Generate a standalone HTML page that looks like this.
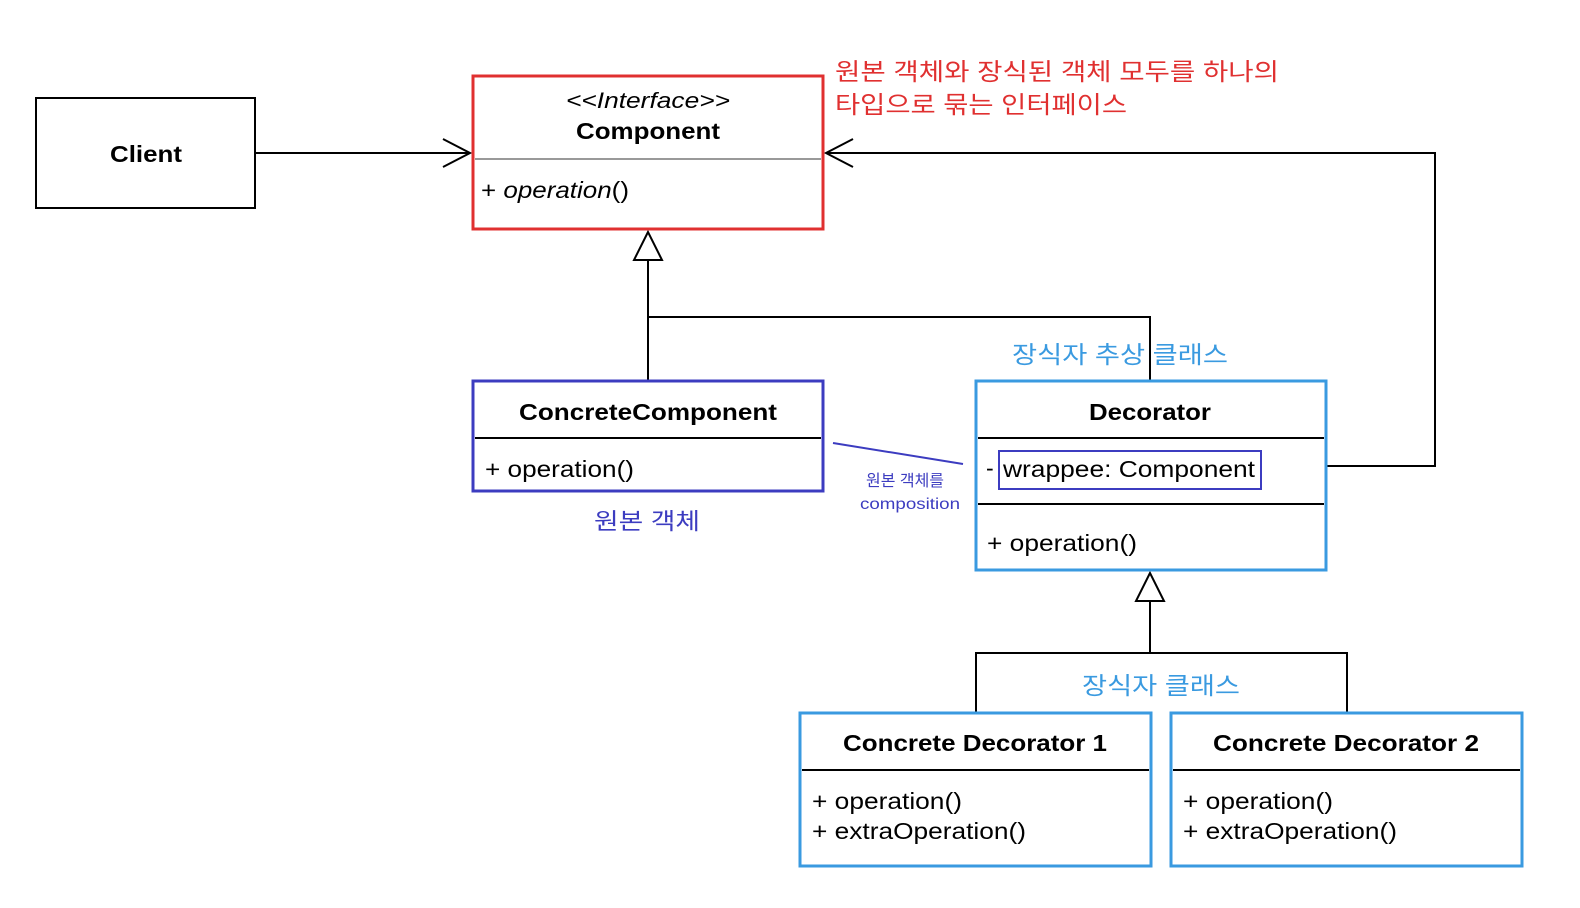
<!DOCTYPE html>
<html><head><meta charset="utf-8"><style>
html,body{margin:0;padding:0;background:#fff}
svg{display:block}
text{font-family:"Liberation Sans","Noto Sans CJK KR",sans-serif}
</style></head><body>
<svg width="1580" height="908" viewBox="0 0 1580 908" xmlns="http://www.w3.org/2000/svg">
<rect width="1580" height="908" fill="#fff"/>
<g fill="none" stroke="#000" stroke-width="2">
<!-- Client -->
<rect x="36" y="98" width="219" height="110"/>
<!-- connectors -->
<line x1="255" y1="153" x2="470" y2="153"/>
<polyline points="443,139 470,153 443,167"/>
<polyline points="1326,466 1435,466 1435,153 826,153"/>
<polyline points="853,139 826,153 853,167"/>
<line x1="648" y1="260" x2="648" y2="381"/>
<polyline points="648,317 1150,317 1150,381"/>
<polygon points="648,232 634,260 662,260" fill="#fff"/>
<line x1="1150" y1="601" x2="1150" y2="653"/>
<polyline points="976,713 976,653 1347,653 1347,713"/>
<polygon points="1150,573 1136,601 1164,601" fill="#fff"/>
</g>
<!-- Component -->
<rect x="473" y="76" width="350" height="153" fill="#fff" stroke="#e03030" stroke-width="3"/>
<line x1="475" y1="159" x2="821" y2="159" stroke="#999" stroke-width="2"/>
<text x="648" y="108" text-anchor="middle" font-size="22" font-style="italic" textLength="164" lengthAdjust="spacingAndGlyphs">&lt;&lt;Interface&gt;&gt;</text>
<text x="648" y="139" text-anchor="middle" font-size="23" font-weight="bold" textLength="144" lengthAdjust="spacingAndGlyphs">Component</text>
<text x="481" y="198" font-size="23" textLength="148" lengthAdjust="spacingAndGlyphs">+ <tspan font-style="italic">operation</tspan>()</text>
<!-- Client text -->
<text x="146" y="162" text-anchor="middle" font-size="23" font-weight="bold" textLength="72" lengthAdjust="spacingAndGlyphs">Client</text>
<!-- red annotation -->
<text x="835" y="80" font-size="24" fill="#e03030" textLength="444" lengthAdjust="spacingAndGlyphs">원본 객체와 장식된 객체 모두를 하나의</text>
<text x="835" y="113" font-size="24" fill="#e03030" textLength="292" lengthAdjust="spacingAndGlyphs">타입으로 묶는 인터페이스</text>
<!-- ConcreteComponent -->
<rect x="473" y="381" width="350" height="110" fill="#fff" stroke="#3c3cc0" stroke-width="3"/>
<line x1="475" y1="438" x2="821" y2="438" stroke="#000" stroke-width="2"/>
<text x="648" y="420" text-anchor="middle" font-size="23" font-weight="bold" textLength="258" lengthAdjust="spacingAndGlyphs">ConcreteComponent</text>
<text x="485" y="477" font-size="23" textLength="149" lengthAdjust="spacingAndGlyphs">+ operation()</text>
<text x="647" y="529" text-anchor="middle" font-size="23" fill="#3c3cc0" textLength="106" lengthAdjust="spacingAndGlyphs">원본 객체</text>
<!-- composition -->
<line x1="833" y1="443" x2="963" y2="464" stroke="#3c3cc0" stroke-width="2"/>
<text x="905" y="486" text-anchor="middle" font-size="16" fill="#3c3cc0">원본 객체를</text>
<text x="910" y="509" text-anchor="middle" font-size="16" fill="#3c3cc0" textLength="100" lengthAdjust="spacingAndGlyphs">composition</text>
<!-- Decorator -->
<text x="1120" y="363" text-anchor="middle" font-size="24" fill="#3a9ae0" textLength="216" lengthAdjust="spacingAndGlyphs">장식자 추상 클래스</text>
<rect x="976" y="381" width="350" height="189" fill="#fff" stroke="#3a9ae0" stroke-width="3"/>
<line x1="978" y1="438" x2="1324" y2="438" stroke="#000" stroke-width="2"/>
<line x1="978" y1="504" x2="1324" y2="504" stroke="#000" stroke-width="2"/>
<text x="1150" y="420" text-anchor="middle" font-size="23" font-weight="bold" textLength="122" lengthAdjust="spacingAndGlyphs">Decorator</text>
<text x="986" y="476" font-size="23">-</text>
<rect x="999" y="451" width="262" height="38" fill="none" stroke="#3c3cc0" stroke-width="2"/>
<text x="1003" y="477" font-size="23" textLength="252" lengthAdjust="spacingAndGlyphs">wrappee: Component</text>
<text x="987" y="551" font-size="23" textLength="150" lengthAdjust="spacingAndGlyphs">+ operation()</text>
<!-- Concrete decorators -->
<text x="1161" y="694" text-anchor="middle" font-size="24" fill="#3a9ae0" textLength="158" lengthAdjust="spacingAndGlyphs">장식자 클래스</text>
<rect x="800" y="713" width="351" height="153" fill="#fff" stroke="#3a9ae0" stroke-width="3"/>
<line x1="802" y1="770" x2="1149" y2="770" stroke="#000" stroke-width="2"/>
<text x="975" y="751" text-anchor="middle" font-size="23" font-weight="bold" textLength="264" lengthAdjust="spacingAndGlyphs">Concrete Decorator 1</text>
<text x="812" y="809" font-size="23" textLength="150" lengthAdjust="spacingAndGlyphs">+ operation()</text>
<text x="812" y="839" font-size="23" textLength="214" lengthAdjust="spacingAndGlyphs">+ extraOperation()</text>
<rect x="1171" y="713" width="351" height="153" fill="#fff" stroke="#3a9ae0" stroke-width="3"/>
<line x1="1173" y1="770" x2="1520" y2="770" stroke="#000" stroke-width="2"/>
<text x="1346" y="751" text-anchor="middle" font-size="23" font-weight="bold" textLength="266" lengthAdjust="spacingAndGlyphs">Concrete Decorator 2</text>
<text x="1183" y="809" font-size="23" textLength="150" lengthAdjust="spacingAndGlyphs">+ operation()</text>
<text x="1183" y="839" font-size="23" textLength="214" lengthAdjust="spacingAndGlyphs">+ extraOperation()</text>
</svg>
</body></html>
